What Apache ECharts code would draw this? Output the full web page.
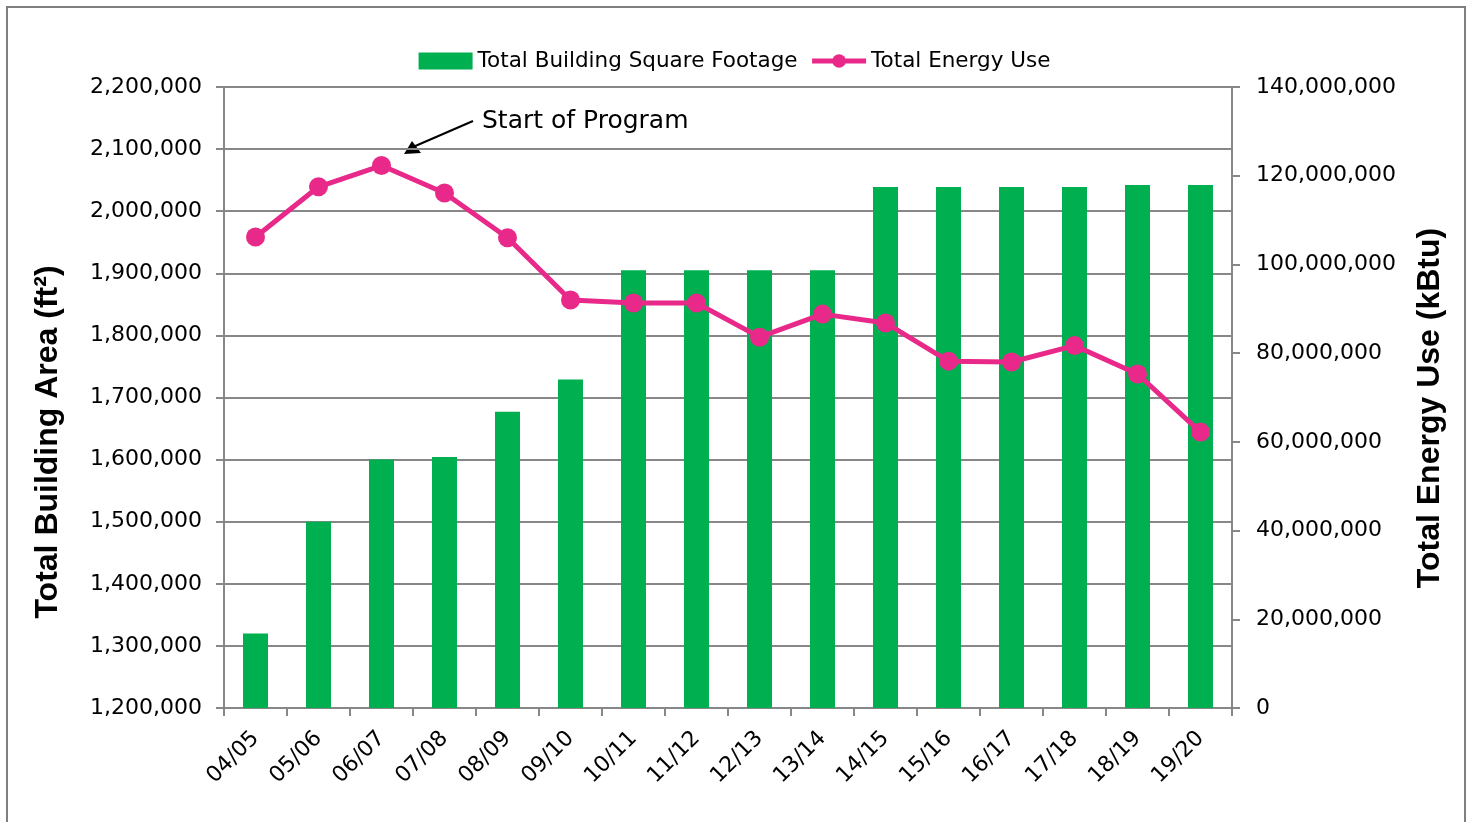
<!DOCTYPE html>
<html>
<head>
<meta charset="utf-8">
<script src="https://cdn.jsdelivr.net/npm/echarts@6/dist/echarts.min.js"></script>
<style>
  html, body { margin: 0; padding: 0; background: #fff; }
  #chart { width: 1469px; height: 822px; }
</style>
</head>
<body>
<div id="chart"></div>
<script>
const years = ['04/05', '05/06', '06/07', '07/08', '08/09', '09/10', '10/11', '11/12',
               '12/13', '13/14', '14/15', '15/16', '16/17', '17/18', '18/19', '19/20'];

// ft2, left axis
const squareFootage = [1320000, 1500000, 1600000, 1604000, 1677000, 1729000, 1905000, 1905000,
                       1905000, 1905000, 2039000, 2039000, 2039000, 2039000, 2042000, 2042000];

// kBtu, right axis
const energyUse = [106200000, 117500000, 122300000, 116100000, 106000000, 92000000, 91300000, 91300000,
                   83600000, 88800000, 86800000, 78200000, 78000000, 81700000, 75300000, 62200000];

const GREEN = '#00B050';
const PINK  = '#E8298A';
const GREY  = '#878787';
const FONT  = '"DejaVu Sans", sans-serif';
const TITLE_FONT = 'bold 32px "Liberation Sans", Arial, sans-serif';

const fmt = (v) => v.toLocaleString('en-US');

const chart = echarts.init(document.getElementById('chart'), null, { renderer: 'canvas' });

chart.setOption({
  backgroundColor: '#fff',
  animation: false,
  grid: { left: 224, right: 237, top: 87, bottom: 114, containLabel: false },
  legend: {
    top: 45, left: 'center',
    itemWidth: 54, itemHeight: 17, itemGap: 12,
    textStyle: { fontFamily: FONT, fontSize: 21.5, color: '#000' },
    data: [
      { name: 'Total Building Square Footage', icon: 'rect' },
      { name: 'Total Energy Use', lineStyle: { width: 5 } },
    ],
  },
  xAxis: {
    type: 'category', data: years, boundaryGap: true,
    axisLine: { lineStyle: { color: GREY, width: 2 } },
    axisTick: { show: true, length: 8, lineStyle: { color: GREY, width: 2 } },
    axisLabel: { rotate: 45, margin: 27, fontFamily: FONT, fontSize: 22, color: '#000', interval: 0 },
  },
  yAxis: [
    {
      type: 'value', min: 1200000, max: 2200000, interval: 100000,
      axisLine: { show: true, lineStyle: { color: GREY, width: 2 } },
      axisTick: { show: true, length: 8, lineStyle: { color: GREY, width: 2 } },
      axisLabel: { margin: 22, fontFamily: FONT, fontSize: 22, color: '#000', formatter: fmt },
      splitLine: { lineStyle: { color: GREY, width: 2 } },
    },
    {
      type: 'value', min: 0, max: 140000000, interval: 20000000,
      axisLine: { show: true, lineStyle: { color: GREY, width: 2 } },
      axisTick: { show: true, length: 8, lineStyle: { color: GREY, width: 2 } },
      axisLabel: { margin: 24, fontFamily: FONT, fontSize: 22, color: '#000', formatter: fmt },
      splitLine: { show: false },
    },
  ],
  series: [
    {
      name: 'Total Building Square Footage', type: 'bar', yAxisIndex: 0,
      data: squareFootage, barWidth: 25,
      itemStyle: { color: GREEN },
    },
    {
      name: 'Total Energy Use', type: 'line', yAxisIndex: 1,
      data: energyUse,
      symbol: 'circle', symbolSize: 19,
      lineStyle: { color: PINK, width: 5 },
      itemStyle: { color: PINK },
      z: 5,
    },
  ],
  graphic: [
    { type: 'rect', silent: true, shape: { x: 7, y: 7, width: 1458, height: 840 },
      style: { fill: 'none', stroke: '#7f7f7f', lineWidth: 2 } },
    { type: 'text', x: 48, y: 442, rotation: Math.PI / 2,
      style: { text: 'Total Building Area (ft²)', font: TITLE_FONT,
               fill: '#000', align: 'center', verticalAlign: 'middle' } },
    { type: 'text', x: 1430, y: 408, rotation: Math.PI / 2,
      style: { text: 'Total Energy Use (kBtu)', font: TITLE_FONT,
               fill: '#000', align: 'center', verticalAlign: 'middle' } },
    { type: 'text', x: 482, y: 121,
      style: { text: 'Start of Program', font: '25px "DejaVu Sans", sans-serif',
               fill: '#000', align: 'left', verticalAlign: 'middle' } },
    { type: 'line', shape: { x1: 473, y1: 121, x2: 413, y2: 147 },
      style: { stroke: '#000', lineWidth: 2 } },
    { type: 'polygon', shape: { points: [[404, 154], [421, 153], [412, 141]] },
      style: { fill: '#000' } },
  ],
});
</script>
</body>
</html>
